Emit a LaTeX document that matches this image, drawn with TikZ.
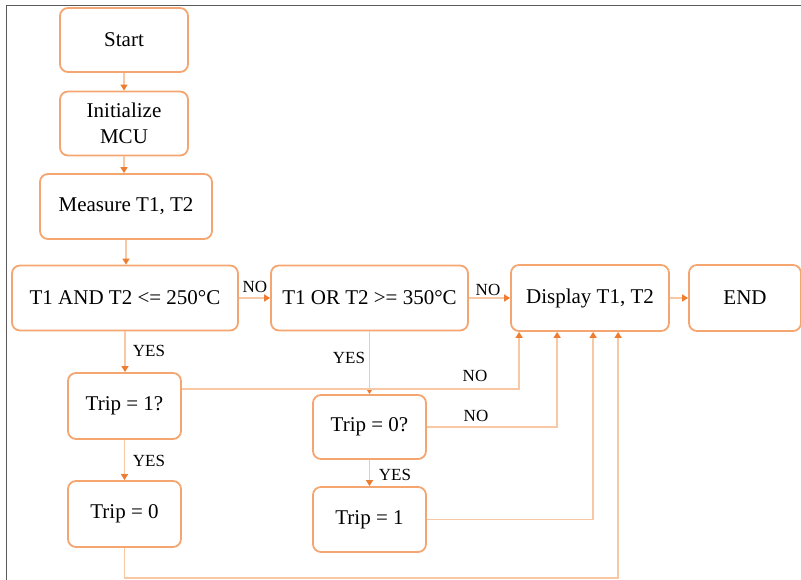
\documentclass[tikz,border=0pt]{standalone}
\usepackage{fontspec}
\setmainfont{Liberation Serif}
\usetikzlibrary{arrows.meta}
\definecolor{boxc}{RGB}{245,166,112}
\definecolor{linec}{RGB}{248,200,165}
\definecolor{arrc}{RGB}{237,125,49}
\definecolor{framec}{RGB}{90,90,90}
\tikzset{
  box/.style={draw=boxc, line width=1.8pt, rounded corners=8pt, fill=white,
    align=center, inner sep=2pt, font=\fontsize{21}{26}\selectfont},
  conn/.style={draw=linec, line width=1.5pt,
    -{Triangle[length=6pt,width=7pt,color=arrc]}},
  lbl/.style={font=\fontsize{17}{18}\selectfont, inner sep=0pt}
}
\begin{document}
\begin{tikzpicture}[x=1pt,y=-1pt]
\useasboundingbox (0,0) rectangle (801,580);
\draw[framec, line width=1.5pt] (6.5,580) coordinate (fb) -- (6.5,5.5) coordinate (fc) -- (801,5.5) coordinate (fr);

\node[box, minimum width=128, minimum height=64] (start) at (124,40) {Start};
\node[box, minimum width=128, minimum height=64] (init) at (124,123.5) {Initialize\\MCU};
\node[box, minimum width=172, minimum height=65] (meas) at (126,206.5) {Measure T1, T2};
\node[box, minimum width=226, minimum height=65] (and) at (125,298) {T1 AND T2 <= 250°C};
\node[box, minimum width=197, minimum height=65] (or) at (369.5,298) {T1 OR T2 >= 350°C};
\node[box, minimum width=158, minimum height=66] (disp) at (590,298) {Display T1, T2};
\node[box, minimum width=112, minimum height=66] (end) at (745,298) {END};
\node[box, minimum width=113, minimum height=66] (t1q) at (124.5,406) {Trip = 1?};
\node[box, minimum width=113, minimum height=66] (t0) at (124.5,514) {Trip = 0};
\node[box, minimum width=113, minimum height=64] (t0q) at (369.5,427) {Trip = 0?};
\node[box, minimum width=113, minimum height=65] (t1) at (369.5,519.5) {Trip = 1};

\coordinate (d1) at ([xshift=9pt]disp.south west);
\coordinate (d2) at ([xshift=47pt]disp.south west);
\coordinate (d3) at ([xshift=83pt]disp.south west);
\coordinate (d4) at ([xshift=108pt]disp.south west);
\coordinate (bot) at (124.5,578);

\draw[conn] (start) -- (init);
\draw[conn] (init) -- (init |- meas.north);
\draw[conn] (meas.south) -- (meas.south |- and.north);
\draw[conn] (and) -- (or);
\draw[conn] (or) -- (disp);
\draw[conn] (disp) -- (end);
\draw[conn] (and.south) -- (and.south |- t1q.north);
\draw[conn] (or.south) -- (or.south |- t0q.north);
\draw[conn] (t1q) -- (t0);
\draw[conn] (t0q) -- (t1);
\draw[conn] ([yshift=17pt]t1q.east) -| (d1);
\draw[conn] (t0q.east) -| (d2);
\draw[conn] (t1.east) -| (d3);
\draw[conn] (t0.south) -- (bot) -| (d4);

\node[lbl] (l1) at (255,287) {NO};
\node[lbl] (l2) at (488,290) {NO};
\node[lbl] (l3) at (149,351) {YES};
\node[lbl] (l4) at (349,358) {YES};
\node[lbl] (l5) at (475,376) {NO};
\node[lbl] (l6) at (476,416) {NO};
\node[lbl] (l7) at (149,461) {YES};
\node[lbl] (l8) at (395,475) {YES};
\end{tikzpicture}
\end{document}
